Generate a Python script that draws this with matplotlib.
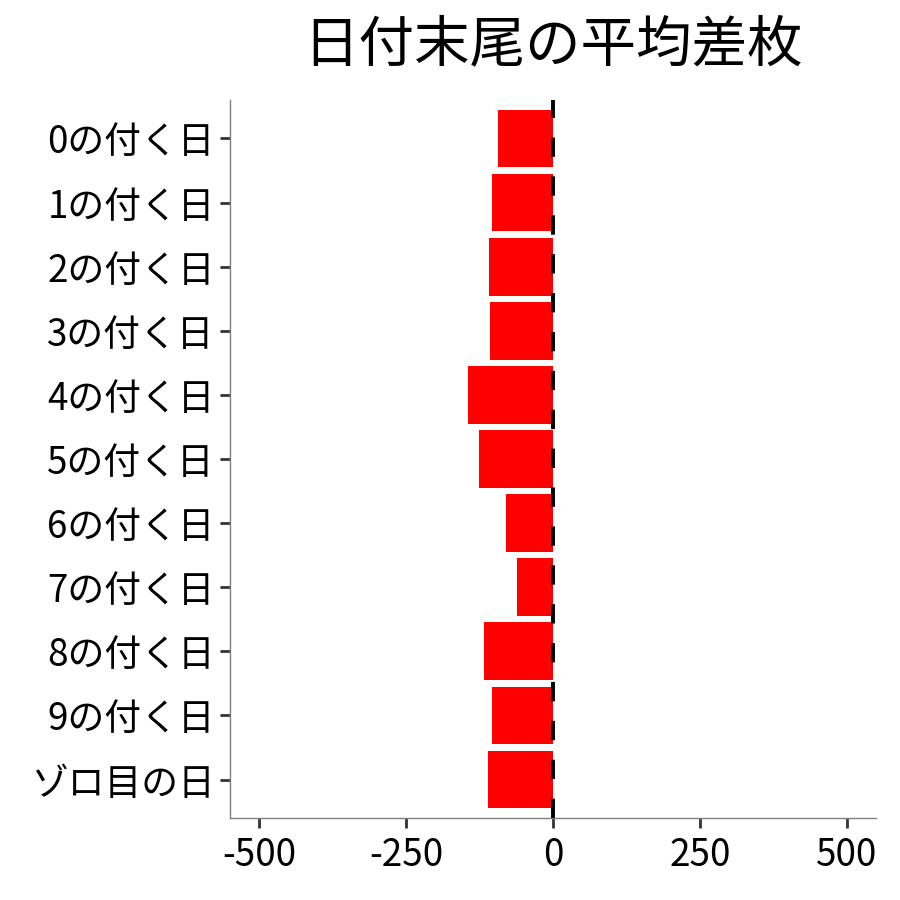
import matplotlib
matplotlib.use('Agg')
import matplotlib.pyplot as plt

plt.rcParams['font.family'] = ['Noto Sans CJK JP', 'DejaVu Sans']

days = ['0の付く日', '1の付く日', '2の付く日', '3の付く日', '4の付く日',
        '5の付く日', '6の付く日', '7の付く日', '8の付く日', '9の付く日', 'ゾロ目の日']
avg_diff = [-94, -104, -109, -107, -145, -126, -80, -61, -117, -104, -111]
xticks = [-500, -250, 0, 250, 500]

fig = plt.figure(figsize=(9, 9), dpi=100)
ax = fig.add_axes([230/900, 1 - 818/900, (876 - 230)/900, (818 - 100)/900])

ax.barh(range(len(days)), avg_diff, height=0.9, color='#ff0000')
ax.axvline(0, color='black', lw=2.8, ls=(0, (5, 5)), zorder=3)

ax.set_xlim(-550, 550)
ax.set_ylim(len(days) - 1 + 0.6, -0.6)
ax.set_xticks(xticks)
ax.set_xticklabels([str(v) for v in xticks])
ax.set_yticks(range(len(days)))
ax.set_yticklabels(days)

for s in ['top', 'right']:
    ax.spines[s].set_visible(False)
for s in ['left', 'bottom']:
    ax.spines[s].set_color('#7f7f7f')
    ax.spines[s].set_linewidth(1)
ax.tick_params(axis='both', labelsize=26.5, length=7, width=2, color='#333333',
               labelcolor='black')
ax.tick_params(axis='x', pad=6)
ax.tick_params(axis='y', pad=4)

fig.text(553/900, 1 - 45/900, '日付末尾の平均差枚', ha='center', va='center', fontsize=40)

fig.savefig('out.png', dpi=100)
